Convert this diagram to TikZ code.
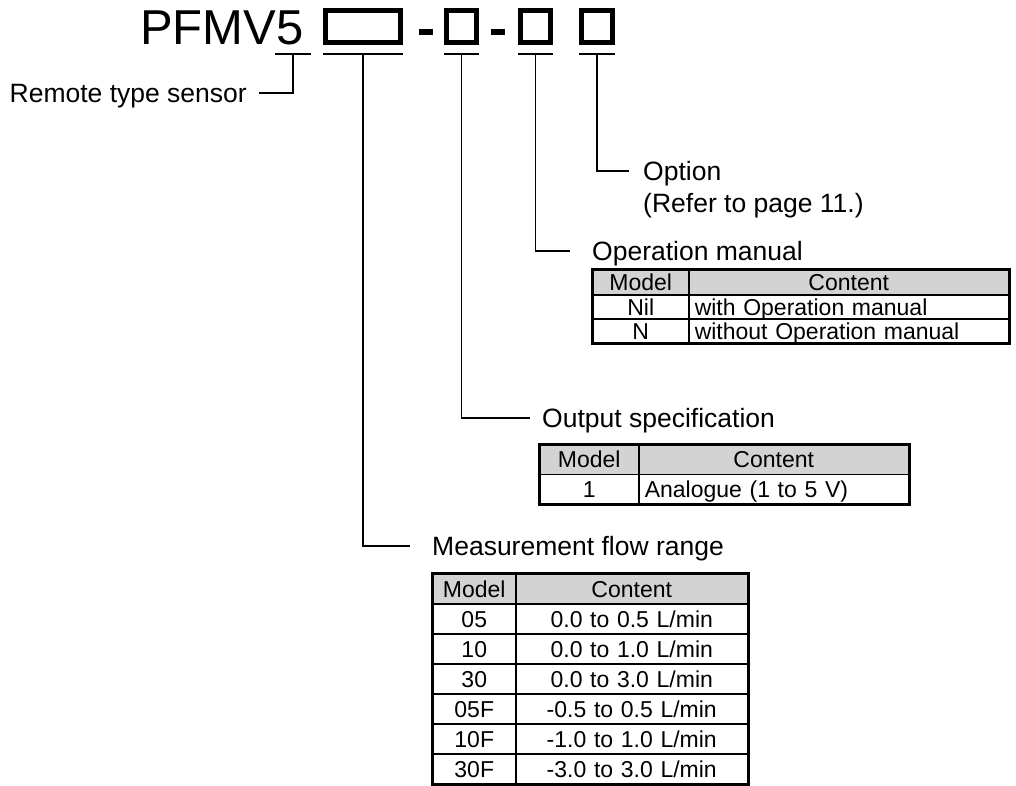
\documentclass[tikz,border=0pt]{standalone}
\usepackage{fontspec}
\setmainfont{Liberation Sans}
\newcommand\tabfont{\fontsize{23}{26}\selectfont}
\newcommand\labfont{\fontsize{26.5}{30}\selectfont}
\newcommand\ttlfont{\fontsize{49}{55}\selectfont}
\definecolor{hdr}{RGB}{211,211,211}
\begin{document}
\begin{tikzpicture}[x=1pt,y=-1pt,
  bx/.style={draw, line width=5pt, inner sep=0pt, minimum height=32pt},
  dashbar/.style={fill=black, inner sep=0pt, minimum width=14pt, minimum height=6pt},
  ulnode/.style={inner sep=0pt, minimum height=0pt},
  ul/.style={line width=2pt},
  conn/.style={line width=1.8pt},
  frame/.style={line width=2.2pt},
  lbl/.style={font=\labfont, inner ysep=0pt, inner xsep=#1, text height=18.9pt, text depth=0pt},
  tc/.style={draw, line width=1.5pt, inner xsep=6pt, inner ysep=0pt, anchor=north west,
    font=\tabfont, text height=16.5pt, text depth=0pt, align=center},
  hd/.style={tc, fill=hdr}]
\useasboundingbox (0,0) rectangle (1016,785);

% title
\node[anchor=base west, font=\ttlfont, inner sep=0pt] (title) at (140,44.3) {PFMV5};
\node[bx, minimum width=75pt] (b1) at (363,26.5) {};
\node[dashbar] (d1) at (426,32) {};
\node[bx, minimum width=30pt] (b2) at (461.5,26.5) {};
\node[dashbar] (d2) at (498,32) {};
\node[bx, minimum width=30pt] (b3) at (535.5,26.5) {};
\node[bx, minimum width=31pt] (b4) at (597,26.5) {};

% underlines
\node[ulnode, minimum width=36pt] (u0) at (293,54) {};
\node[ulnode, minimum width=80pt] (u1) at (363,54) {};
\node[ulnode, minimum width=35pt] (u2) at (461.5,54) {};
\node[ulnode, minimum width=35pt] (u3) at (535.5,54) {};
\node[ulnode, minimum width=36pt] (u4) at (597,54) {};
\foreach \u in {u0,u1,u2,u3,u4} \draw[ul] (\u.west) -- (\u.east);

% labels
\node[lbl=12pt, anchor=east] (rts) at (259,93.3) {Remote type sensor};
\node[lbl=14pt, anchor=west] (opt) at (629,171.2) {Option};
\node[font=\labfont, inner sep=0pt, anchor=base west] (ref) at (643,212) {(Refer to page 11.)};
\node[lbl=22pt, anchor=west] (opm) at (570,250.7) {Operation manual};
\node[lbl=12pt, anchor=west] (outs) at (530,417.7) {Output specification};
\node[lbl=22pt, anchor=west] (meas) at (410,545.7) {Measurement flow range};

% connectors
\draw[conn] (u0.center) |- (rts.east);
\draw[conn] (u4.center) |- (opt.west);
\draw[conn] (u3.center) |- (opm.west);
\draw[conn] (u2.center) |- (outs.west);
\draw[conn] (u1.center) |- (meas.west);

% Operation manual table
\node[hd, text width=84pt, minimum height=25pt] (om11) at (592,269) {Model};
\node[hd, text width=308pt, minimum height=25pt] (om12) at (688,269) {Content};
\node[tc, text width=84pt, minimum height=24pt] (om21) at (592,294) {Nil};
\node[tc, text width=308pt, minimum height=24pt, align=left] (om22) at (688,294) {with Operation manual};
\node[tc, text width=84pt, minimum height=24pt] (om31) at (592,318) {N};
\node[tc, text width=308pt, minimum height=24pt, align=left] (om32) at (688,318) {without Operation manual};
\draw[frame] (om11.north west) rectangle (om32.south east);

% Output specification table
\node[hd, text width=87pt, minimum height=29.5pt] (os11) at (539,444) {Model};
\node[hd, text width=258pt, minimum height=29.5pt] (os12) at (638,444) {Content};
\node[tc, text width=87pt, minimum height=29.5pt] (os21) at (539,473.5) {1};
\node[tc, text width=258pt, minimum height=29.5pt, align=left] (os22) at (638,473.5) {Analogue (1 to 5 V)};
\draw[frame] (os11.north west) rectangle (os22.south east);

% Measurement flow range table
\node[hd, text width=71pt, minimum height=30pt] (mf11) at (432,573) {Model};
\node[hd, text width=220pt, minimum height=30pt] (mf12) at (515,573) {Content};
\node[tc, text width=71pt, minimum height=30pt] (mf21) at (432,603) {05};
\node[tc, text width=220pt, minimum height=30pt] (mf22) at (515,603) {0.0 to 0.5 L/min};
\node[tc, text width=71pt, minimum height=30pt] (mf31) at (432,633) {10};
\node[tc, text width=220pt, minimum height=30pt] (mf32) at (515,633) {0.0 to 1.0 L/min};
\node[tc, text width=71pt, minimum height=30pt] (mf41) at (432,663) {30};
\node[tc, text width=220pt, minimum height=30pt] (mf42) at (515,663) {0.0 to 3.0 L/min};
\node[tc, text width=71pt, minimum height=30pt] (mf51) at (432,693) {05F};
\node[tc, text width=220pt, minimum height=30pt] (mf52) at (515,693) {-0.5 to 0.5 L/min};
\node[tc, text width=71pt, minimum height=30pt] (mf61) at (432,723) {10F};
\node[tc, text width=220pt, minimum height=30pt] (mf62) at (515,723) {-1.0 to 1.0 L/min};
\node[tc, text width=71pt, minimum height=30pt] (mf71) at (432,753) {30F};
\node[tc, text width=220pt, minimum height=30pt] (mf72) at (515,753) {-3.0 to 3.0 L/min};
\draw[frame] (mf11.north west) rectangle (mf72.south east);
\end{tikzpicture}
\end{document}
